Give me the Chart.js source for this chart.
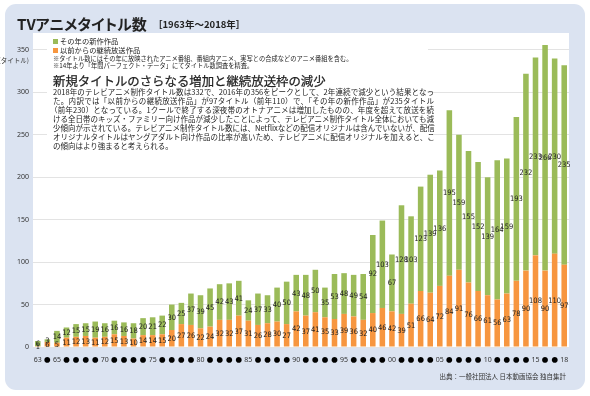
<!DOCTYPE html>
<html>
<head>
<meta charset="utf-8">
<script src="https://cdn.jsdelivr.net/npm/chart.js@4.4.1/dist/chart.umd.min.js"></script>
<style>
body { margin: 0; width: 590px; height: 396px; overflow: hidden; position: relative; background: #fff;
       font-family: "Noto Sans CJK JP", sans-serif; color: #222; }
#c { position: absolute; left: 0; top: 0; }
.t { position: absolute; white-space: nowrap; line-height: 1; }
.box { position: absolute; left: 47px; top: 34px; width: 381px; height: 118px; background: #fff; }
.sq { position: absolute; width: 5px; height: 5px; }
.line { position: absolute; left: 53px; width: 381px; font-size: 7.5px; line-height: 1; white-space: nowrap;
        text-align: justify; text-align-last: justify; }
</style>
</head>
<body>
<canvas id="c" width="590" height="396"></canvas>

<div class="t" style="left:17px;top:16px;font-size:15px;font-weight:bold;font-feature-settings:'palt';">TVアニメタイトル数</div>
<div class="t" style="left:153px;top:20px;font-size:9.5px;font-weight:bold;">［1963年～2018年］</div>
<div class="t" style="right:561px;top:57px;font-size:6.5px;color:#333;">(タイトル)</div>

<div class="box"></div>
<div class="sq" style="left:53px;top:39px;background:#9bbb59;"></div>
<div class="t" style="left:60px;top:38px;font-size:7.3px;">その年の新作作品</div>
<div class="sq" style="left:53px;top:48px;background:#f7963f;"></div>
<div class="t" style="left:60px;top:47px;font-size:7.3px;">以前からの継続放送作品</div>
<div class="t" style="left:53px;top:56px;font-size:6.25px;">※タイトル数にはその年に放映されたアニメ番組、番組内アニメ、実写との合成などのアニメ番組を含む。</div>
<div class="t" style="left:53px;top:63px;font-size:6.25px;">※14年より「年間パーフェクト・データ」にてタイトル数調査を精査。</div>

<div class="t" style="left:53px;top:75px;font-size:12.4px;-webkit-text-stroke:0.25px #222;">新規タイトルのさらなる増加と継続放送枠の減少</div>
<div class="line" style="top:88px;">2018年のテレビアニメ制作タイトル数は332で、2016年の356をピークとして、2年連続で減少という結果となっ</div>
<div class="line" style="top:97px;">た。内訳では「以前からの継続放送作品」が97タイトル（前年110）で、「その年の新作作品」が235タイトル</div>
<div class="line" style="top:106px;left:50px;width:384px;">（前年230）となっている。1クールで終了する深夜帯のオトナアニメは増加したものの、年度を超えて放送を続</div>
<div class="line" style="top:115px;">ける全日帯のキッズ・ファミリー向け作品が減少したことによって、テレビアニメ制作タイトル全体においても減</div>
<div class="line" style="top:124px;">少傾向が示されている。テレビアニメ制作タイトル数には、Netflixなどの配信オリジナルは含んでいないが、配信</div>
<div class="line" style="top:133px;">オリジナルタイトルはヤングアダルト向け作品の比率が高いため、テレビアニメに配信オリジナルを加えると、こ</div>
<div class="line" style="top:142px;text-align-last:left;">の傾向はより強まると考えられる。</div>

<div class="t" style="right:24px;top:373px;font-size:6.5px;color:#333;">出典：一般社団法人 日本動画協会 独自集計</div>

<script>
// データ（1963〜2018年）
const years = [1963, 1964, 1965, 1966, 1967, 1968, 1969, 1970, 1971, 1972,
               1973, 1974, 1975, 1976, 1977, 1978, 1979, 1980, 1981, 1982,
               1983, 1984, 1985, 1986, 1987, 1988, 1989, 1990, 1991, 1992,
               1993, 1994, 1995, 1996, 1997, 1998, 1999, 2000, 2001, 2002,
               2003, 2004, 2005, 2006, 2007, 2008, 2009, 2010, 2011, 2012,
               2013, 2014, 2015, 2016, 2017, 2018];
// 以前からの継続放送作品
const continuing = [1, 6, 5, 11, 12, 13, 11, 12, 15, 13,
                    10, 14, 14, 15, 20, 27, 26, 22, 24, 32,
                    32, 37, 31, 26, 28, 30, 27, 42, 37, 41,
                    35, 33, 39, 36, 32, 40, 46, 42, 39, 51,
                    66, 64, 72, 84, 91, 76, 66, 61, 56, 63,
                    78, 90, 108, 90, 110, 97];
// その年の新作作品
const newTitles = [6, 3, 14, 12, 15, 15, 19, 16, 16, 16,
                   18, 20, 21, 22, 30, 25, 37, 39, 45, 42,
                   43, 41, 24, 37, 33, 40, 50, 43, 48, 50,
                   35, 53, 48, 49, 54, 92, 103, 67, 128, 103,
                   123, 139, 136, 195, 159, 155, 152, 139, 164, 159,
                   193, 232, 233, 266, 230, 235];
// 数字で表示する年（それ以外は●）
const labeledYears = [1963, 1965, 1970, 1975, 1980, 1985, 1990, 1995, 2000, 2005, 2010, 2015, 2018];
const yTicks = [0, 50, 100, 150, 200, 250, 300, 350];

const GREEN = '#9bbb59';
const ORANGE = '#f7963f';

// 背景：青い枠と白いプロット領域
const framePlugin = {
    id: 'frame',
    beforeDraw(chart) {
        const c = chart.ctx, a = chart.chartArea;
        c.save();
        c.fillStyle = '#ffffff';
        c.fillRect(0, 0, chart.width, chart.height);
        c.fillStyle = '#dbe3f1';
        c.beginPath();
        c.roundRect(5, 4, 580, 386, 11);
        c.fill();
        c.fillStyle = '#ffffff';
        c.fillRect(a.left, a.top, a.right - a.left, a.bottom - a.top);
        c.restore();
    }
};

// 棒の中に数値を表示
const valuePlugin = {
    id: 'values',
    afterDatasetsDraw(chart) {
        const c = chart.ctx;
        c.save();
        c.font = '7.5px "Liberation Sans Narrow", "DejaVu Sans Condensed", sans-serif';
        c.fillStyle = '#222';
        c.textAlign = 'center';
        c.textBaseline = 'middle';
        chart.data.datasets.forEach((ds, i) => {
            const meta = chart.getDatasetMeta(i);
            meta.data.forEach((bar, j) => {
                const p = bar.getProps(['x', 'y', 'base'], true);
                c.fillText(ds.data[j], p.x, (p.y + p.base) / 2 + 0.5);
            });
        });
        c.restore();
    }
};

const isLabeled = (idx) => labeledYears.includes(years[idx]);

new Chart(document.getElementById('c'), {
    type: 'bar',
    data: {
        labels: years,
        datasets: [
            { label: '以前からの継続放送作品', data: continuing, backgroundColor: ORANGE },
            { label: 'その年の新作作品', data: newTitles, backgroundColor: GREEN }
        ]
    },
    options: {
        responsive: false, animation: false,
        layout: { padding: { top: 33, right: 21, left: 0, bottom: 0 } },
        datasets: { bar: { categoryPercentage: 1, barPercentage: 0.58 } },
        plugins: { legend: { display: false }, tooltip: { enabled: false } },
        scales: {
            x: {
                stacked: true,
                grid: { display: false, drawTicks: false, tickLength: 0 },
                border: { display: false },
                afterFit: (s) => { s.height = 49; },
                ticks: {
                    autoSkip: false, maxRotation: 0, padding: 9,
                    callback: (v, idx) => isLabeled(idx) ? String(years[idx]).slice(2) : '●',
                    color: (ctx) => isLabeled(ctx.index) ? '#333' : '#000',
                    font: (ctx) => isLabeled(ctx.index)
                        ? { size: 7, family: 'Noto Sans' }
                        : { size: 6.5, family: 'Noto Sans CJK JP' }
                }
            },
            y: {
                stacked: true, min: 0, max: 370,
                afterFit: (s) => { s.width = 33; },
                afterBuildTicks: (s) => { s.ticks = yTicks.map(v => ({ value: v })); },
                grid: { color: '#e3e3e3', drawTicks: false },
                border: { display: false },
                ticks: { padding: 4, color: '#333', font: { size: 7, family: 'Noto Sans' } }
            }
        }
    },
    plugins: [framePlugin, valuePlugin]
});
</script>
</body>
</html>
